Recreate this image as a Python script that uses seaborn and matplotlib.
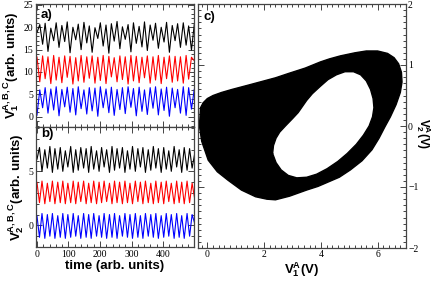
import numpy as np
import pandas as pd
import matplotlib
matplotlib.use("Agg")
import matplotlib.pyplot as plt
from matplotlib.ticker import MultipleLocator
import seaborn as sns

# time axis (extrema of the oscillations), panel a
t_a = [0, 9, 18, 26, 35, 44, 53, 61, 70, 79,
       88, 96, 105, 114, 123, 131, 140, 149, 158, 166,
       175, 184, 193, 201, 210, 219, 228, 236, 245, 254,
       263, 271, 280, 289, 298, 306, 315, 324, 333, 341,
       350, 359, 368, 376, 385, 394, 403, 411, 420, 429,
       438, 446, 455, 464, 473, 481, 490, 499]
black_a = [18.8, 20.6, 16.2, 20.9, 14.6, 19.8, 17.0, 21.0, 15.5, 20.4,
           16.8, 21.2, 14.3, 20.0, 17.2, 20.7, 15.0, 21.1, 16.5, 20.3,
           14.4, 19.9, 17.5, 21.0, 15.8, 20.5, 14.2, 20.8, 16.9, 21.3,
           15.2, 20.1, 17.3, 20.6, 14.5, 21.0, 16.4, 20.2, 15.6, 21.2,
           14.8, 20.5, 17.1, 20.9, 15.3, 20.0, 16.7, 21.1, 14.4, 20.4,
           17.0, 20.8, 15.5, 21.0, 16.0, 20.3, 14.9, 20.7]
red_a = [13.4, 7.8, 13.6, 8.5, 13.4, 7.4, 13.7, 8.2, 13.3, 7.6,
         13.6, 8.8, 13.5, 7.3, 13.2, 8.0, 13.7, 7.7, 13.4, 8.6,
         13.6, 7.5, 13.3, 8.1, 13.7, 7.4, 13.5, 8.9, 13.2, 7.8,
         13.6, 8.3, 13.4, 7.3, 13.7, 8.0, 13.5, 7.6, 13.3, 8.7,
         13.6, 7.5, 13.4, 8.2, 13.7, 7.4, 13.3, 8.5, 13.6, 7.7,
         13.5, 8.0, 13.4, 7.5, 13.7, 8.4, 13.3, 12.5]
blue_a = [0.3, 6.0, 2.0, 6.5, 0.8, 6.2, 1.5, 6.7, 0.2, 6.1,
          2.2, 6.6, 1.0, 6.3, 0.4, 6.7, 1.8, 6.0, 0.6, 6.5,
          1.3, 6.4, 0.1, 6.7, 2.0, 6.2, 0.9, 6.6, 0.3, 6.1,
          1.6, 6.5, 0.7, 6.7, 2.1, 6.3, 0.2, 6.6, 1.2, 6.0,
          0.5, 6.5, 1.9, 6.7, 0.4, 6.2, 1.4, 6.6, 0.1, 6.4,
          2.0, 6.1, 0.8, 6.7, 0.3, 6.5, 1.7, 6.2]

# panel b
t_b = [0, 8, 16, 25, 33, 41, 49, 57, 66, 74,
       82, 90, 98, 107, 115, 123, 131, 139, 148, 156,
       164, 172, 180, 189, 197, 205, 213, 221, 230, 238,
       246, 254, 262, 271, 279, 287, 295, 303, 312, 320,
       328, 336, 344, 353, 361, 369, 377, 385, 394, 402,
       410, 418, 426, 435, 443, 451, 459, 467, 476, 484,
       492, 500]
black_b = [6.1, 7.2, 5.0, 7.0, 5.3, 7.3, 4.9, 7.1, 5.2, 7.2,
           5.0, 6.9, 5.4, 7.3, 4.9, 7.0, 5.1, 7.2, 5.3, 7.1,
           4.9, 7.3, 5.2, 6.9, 5.0, 7.2, 5.4, 7.0, 4.9, 7.3,
           5.1, 7.1, 5.3, 7.2, 4.9, 6.9, 5.2, 7.3, 5.0, 7.1,
           5.4, 7.2, 4.9, 7.0, 5.1, 7.3, 5.3, 7.1, 4.9, 7.2,
           5.2, 6.9, 5.0, 7.3, 5.4, 7.0, 4.9, 7.2, 5.1, 7.1,
           5.3, 6.6]
red_b = [4.0, 2.1, 4.1, 2.0, 3.9, 2.2, 4.1, 2.0, 4.0, 2.1,
         4.1, 2.0, 3.9, 2.1, 4.1, 2.0, 4.0, 2.2, 4.1, 2.0,
         3.9, 2.1, 4.1, 2.0, 4.0, 2.1, 4.1, 2.2, 3.9, 2.0,
         4.1, 2.1, 4.0, 2.0, 4.1, 2.1, 3.9, 2.0, 4.1, 2.2,
         4.0, 2.0, 4.1, 2.1, 3.9, 2.0, 4.1, 2.1, 4.0, 2.0,
         4.1, 2.2, 3.9, 2.0, 4.1, 2.1, 4.0, 2.0, 4.1, 2.1,
         3.9, 2.5]
blue_b = [0.9, -1.1, 1.1, -1.2, 1.0, -1.0, 1.1, -1.2, 0.9, -1.1,
          1.1, -1.2, 1.0, -1.1, 1.1, -1.0, 0.9, -1.2, 1.1, -1.1,
          1.0, -1.2, 1.1, -1.0, 0.9, -1.1, 1.1, -1.2, 1.0, -1.1,
          1.1, -1.2, 0.9, -1.0, 1.1, -1.1, 1.0, -1.2, 1.1, -1.1,
          0.9, -1.2, 1.1, -1.0, 1.0, -1.1, 1.1, -1.2, 0.9, -1.1,
          1.1, -1.0, 1.0, -1.2, 1.1, -1.1, 0.9, -1.2, 1.1, -1.0,
          1.0, 0.2]

# panel c: outer and inner edge of the attractor band
outer_x = [-0.24, -0.28, -0.20, 0.03, 0.35, 0.73, 1.20, 1.70, 2.10, 2.40,
           2.90, 3.50, 3.90, 4.20, 4.65, 5.04, 5.45, 5.80, 6.05, 6.25,
           6.45, 6.65, 6.80, 6.86, 6.84, 6.74, 6.58, 6.35, 6.00, 5.60,
           5.20, 4.69, 4.30, 3.98, 3.45, 2.85, 2.40, 2.00, 1.44, 0.87,
           0.50, 0.20, 0.00, -0.15]
outer_y = [0.30, 0.00, -0.25, -0.56, -0.75, -0.89, -1.05, -1.16, -1.20, -1.21,
           -1.15, -1.05, -0.99, -0.93, -0.84, -0.72, -0.57, -0.39, -0.20, -0.02,
           0.15, 0.35, 0.55, 0.72, 0.88, 1.02, 1.12, 1.19, 1.23, 1.23,
           1.20, 1.15, 1.10, 1.05, 0.95, 0.86, 0.79, 0.74, 0.67, 0.60,
           0.55, 0.50, 0.45, 0.38]
inner_x = [2.30, 2.33, 2.42, 2.55, 2.75, 3.00, 3.20, 3.35, 3.50, 3.70,
           3.98, 4.25, 4.55, 4.85, 5.15, 5.40, 5.60, 5.75, 5.84, 5.87,
           5.82, 5.70, 5.50, 5.25, 4.93, 4.60, 4.22, 3.85, 3.50, 3.15,
           2.85, 2.60, 2.42]
inner_y = [-0.45, -0.32, -0.20, -0.10, 0.00, 0.12, 0.22, 0.32, 0.42, 0.53,
           0.65, 0.76, 0.84, 0.89, 0.89, 0.84, 0.74, 0.60, 0.45, 0.30,
           0.15, 0.00, -0.15, -0.30, -0.45, -0.58, -0.70, -0.79, -0.84, -0.85,
           -0.81, -0.72, -0.60]

sns.set_style("ticks")
plt.rcParams['font.family'] = ['Liberation Serif', 'DejaVu Serif']
plt.rcParams['text.color'] = 'black'
plt.rcParams['axes.labelcolor'] = 'black'
plt.rcParams['mathtext.fontset'] = 'custom'
plt.rcParams['mathtext.bf'] = 'Liberation Sans:bold'
plt.rcParams['mathtext.rm'] = 'Liberation Sans:bold'
plt.rcParams['mathtext.it'] = 'Liberation Sans:bold'
plt.rcParams['mathtext.default'] = 'bf'

fig = plt.figure(figsize=(4.36, 2.84), dpi=100)
W, H = 436, 284


def add_ax(x0, y0, x1, y1):
    return fig.add_axes([x0 / W, 1 - y1 / H, (x1 - x0) / W, (y1 - y0) / H])


ax_a = add_ax(36, 4, 194, 127)
ax_b = add_ax(36, 127, 194, 247)
ax_c = add_ax(198, 4, 406, 248)

lab = dict(fontfamily='Liberation Sans', fontweight='bold', fontsize=9.5, color='black')

for ax in (ax_a, ax_b, ax_c):
    ax.tick_params(which='both', direction='in', top=True, right=True,
                   labelsize=7, width=0.7, color='#444444', labelcolor='black', pad=2)
    ax.tick_params(which='major', length=4)
    ax.tick_params(which='minor', length=2)
    for s in ax.spines.values():
        s.set_linewidth(0.9)
        s.set_color('#444444')

for ax, t, series, ylim in ((ax_a, t_a, (black_a, red_a, blue_a), (-2.3, 25.2)),
                            (ax_b, t_b, (black_b, red_b, blue_b), (-2.0, 9.1))):
    for y, c in zip(series, ('black', 'red', 'blue')):
        sns.lineplot(x=t, y=y, ax=ax, color=c, lw=0.8, sort=False, estimator=None)
    ax.set_xlim(-3, 498)
    ax.set_ylim(*ylim)
    ax.xaxis.set_major_locator(MultipleLocator(100))
    ax.xaxis.set_minor_locator(MultipleLocator(20))
    ax.yaxis.set_major_locator(MultipleLocator(5))
    ax.yaxis.set_minor_locator(MultipleLocator(1))

ax_a.tick_params(labelbottom=False)
ax_a.set_ylabel(r"$V_1^{A,B,C}$(arb. units)", labelpad=2, **lab)
ax_b.set_ylabel(r"$V_2^{A,B,C}$(arb. units)", labelpad=2, **lab)
ax_b.set_xlabel("time (arb. units)", labelpad=1, **lab)
ax_a.text(0.03, 0.96, "a)", transform=ax_a.transAxes, va='top', ha='left', **lab)
ax_b.text(0.03, 0.99, "b)", transform=ax_b.transAxes, va='top', ha='left', **lab)

# phase portrait
ax_c.fill(outer_x, outer_y, color='black', lw=0)
sns.lineplot(x=outer_x + outer_x[:1], y=outer_y + outer_y[:1], ax=ax_c,
             color='black', lw=1.0, sort=False, estimator=None)
ax_c.fill(inner_x, inner_y, color='white', lw=0)
sns.lineplot(x=inner_x + inner_x[:1], y=inner_y + inner_y[:1], ax=ax_c,
             color='black', lw=1.0, sort=False, estimator=None)
ax_c.set_xlim(-0.33, 7.0)
ax_c.set_ylim(-2, 2)
ax_c.xaxis.set_major_locator(MultipleLocator(2))
ax_c.xaxis.set_minor_locator(MultipleLocator(0.2))
ax_c.yaxis.set_major_locator(MultipleLocator(1))
ax_c.yaxis.set_minor_locator(MultipleLocator(0.1))
ax_c.tick_params(labelleft=False, labelright=True, pad=1.5)
ax_c.yaxis.set_label_position('right')
ax_c.set_xlabel(r"$V_1^A$(V)", labelpad=1, **lab)
ax_c.set_ylabel(r"$V_2^A$(V)", rotation=270, fontsize=8.5,
                fontfamily='Liberation Sans', fontweight='bold', color='black')
ax_c.yaxis.set_label_coords(1.128, 0.47)
ax_c.text(0.025, 0.97, "c)", transform=ax_c.transAxes, va='top', ha='left', **lab)

fig.savefig("out.png", dpi=100)
